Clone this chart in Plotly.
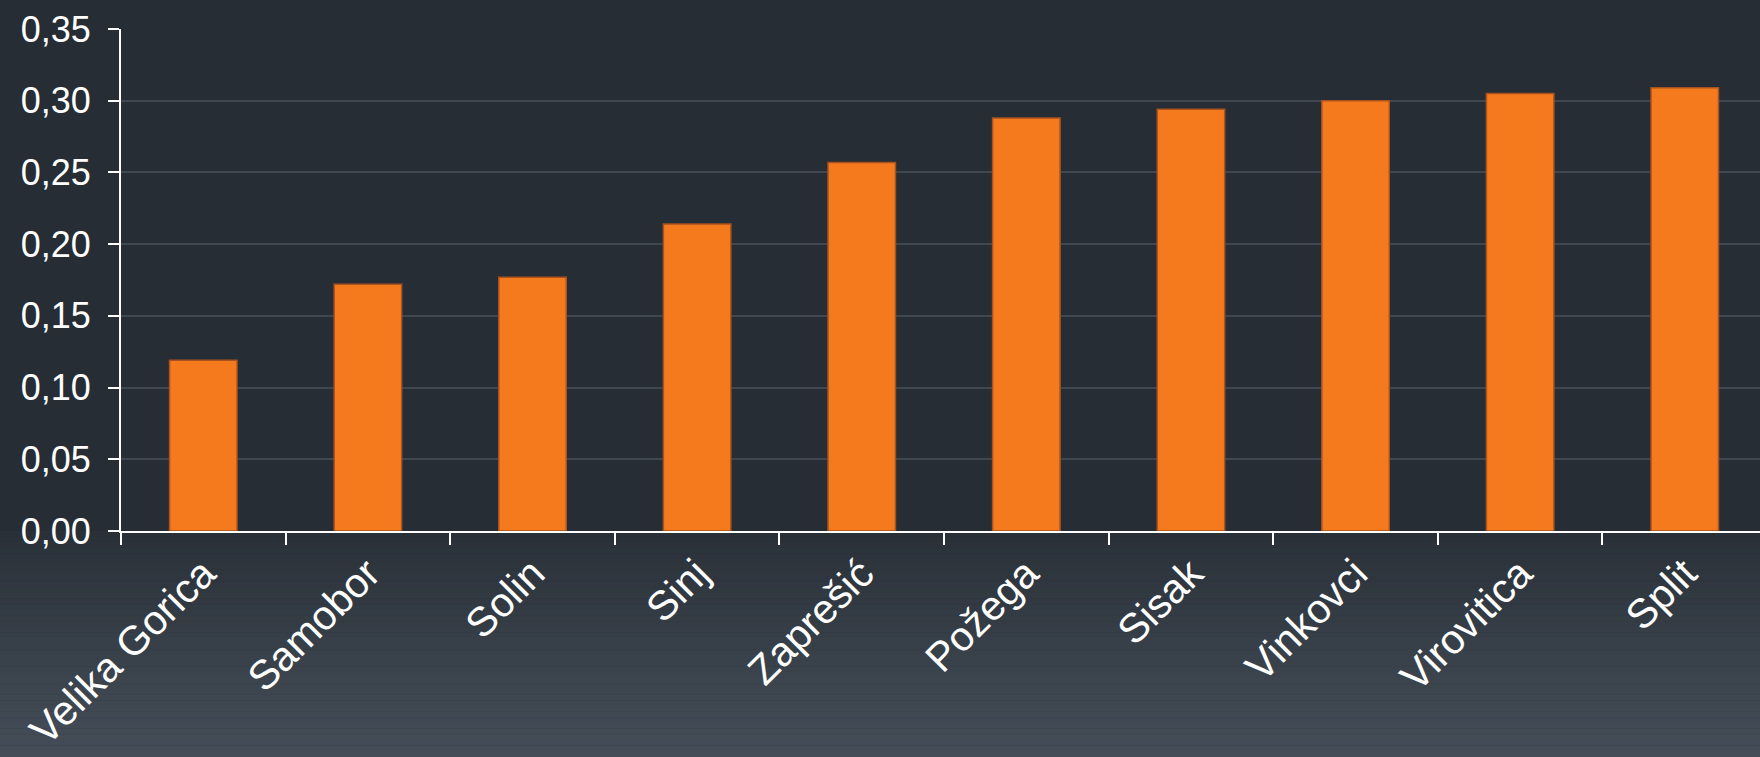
import plotly.graph_objects as go

categories = ["Velika Gorica", "Samobor", "Solin", "Sinj", "Zaprešić",
              "Požega", "Sisak", "Vinkovci", "Virovitica", "Split"]
values = [0.119, 0.172, 0.177, 0.214, 0.257, 0.288, 0.294, 0.300, 0.305, 0.309]
y_ticks = [0.00, 0.05, 0.10, 0.15, 0.20, 0.25, 0.30, 0.35]
y_labels = ["0,00", "0,05", "0,10", "0,15", "0,20", "0,25", "0,30", "0,35"]

W, H = 1760, 757
ML, MT, MB = 121, 29, 226
plot_h = H - MT - MB

fig = go.Figure()
fig.add_trace(go.Bar(
    x=categories, y=values,
    marker=dict(color="#f57a1e", line=dict(color="#a9521f", width=1.5)),
    width=0.41,
))

# background gradient below the plot area
shapes = []
n = 40
top_c = (0x29, 0x30, 0x38)
bot_c = (0x45, 0x4e, 0x58)
y_top = 0.0
y_bot = -(MB) / plot_h
for i in range(n):
    t = (i + 0.5) / n
    c = tuple(int(round(top_c[k] + (bot_c[k] - top_c[k]) * t)) for k in range(3))
    y0 = y_top + (y_bot - y_top) * i / n
    y1 = y_top + (y_bot - y_top) * (i + 1) / n
    shapes.append(dict(type="rect", xref="paper", yref="paper",
                       x0=-1, x1=2, y0=y1, y1=y0 + 0.0005,
                       fillcolor="rgb(%d,%d,%d)" % c, line=dict(width=0),
                       layer="below"))

font = "Liberation Sans, Arial, sans-serif"
fig.update_layout(
    width=W, height=H,
    margin=dict(l=ML, r=0, t=MT, b=MB, pad=0),
    paper_bgcolor="#262d35",
    plot_bgcolor="#262d35",
    showlegend=False,
    bargap=0.59,
    shapes=shapes,
    font=dict(family=font, color="white", size=36),
    xaxis=dict(
        range=[-0.5, 9.457],
        showgrid=False,
        showline=True, linecolor="white", linewidth=2,
        ticks="outside", tickson="boundaries", ticklen=12, tickwidth=2, tickcolor="white",
        tickangle=-45,
        tickfont=dict(family=font, size=41, color="white"),
        fixedrange=True,
    ),
    yaxis=dict(
        range=[0, 0.35],
        tickvals=y_ticks, ticktext=y_labels,
        showgrid=True, gridcolor="#3f4851", gridwidth=2,
        showline=True, linecolor="white", linewidth=2,
        ticks="outside", ticklen=11, tickwidth=2, tickcolor="white",
        tickfont=dict(family=font, size=36, color="white"),
        zeroline=False,
        ticklabelstandoff=10,
    ),
)

fig.write_html(
    "out.html",
    config={"displayModeBar": False},
    post_script="document.body.style.margin='0';document.body.style.background='#262d35';",
)
